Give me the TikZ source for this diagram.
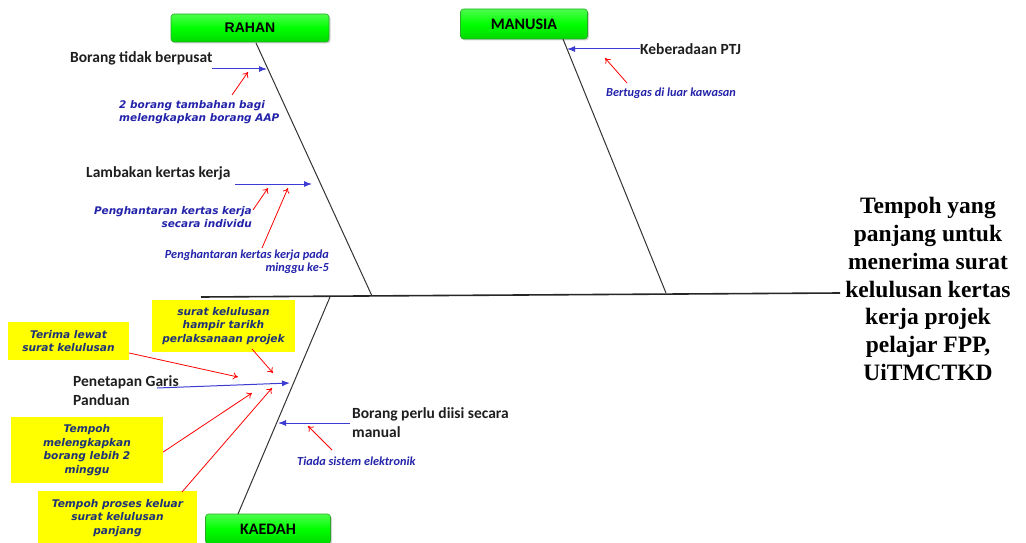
\documentclass[tikz,border=0pt]{standalone}
\usepackage{fontspec}
\setmainfont{Liberation Serif}
\newfontfamily\carl{Carlito}
\newfontfamily\dvs{DejaVu Sans}
\newfontfamily\lsans{Liberation Sans}
\usetikzlibrary{arrows.meta,shadows}
\definecolor{boxgreen}{RGB}{0,255,0}
\definecolor{boxedge}{RGB}{40,170,40}
\definecolor{arrowblue}{RGB}{60,60,210}
\definecolor{labelblue}{RGB}{35,35,170}
\definecolor{navy}{RGB}{30,50,120}
\definecolor{causegray}{RGB}{30,30,30}
\definecolor{yel}{RGB}{255,255,0}
\tikzset{
  catbox/.style={draw=boxedge, top color=boxgreen!70!white, bottom color=boxgreen!85!black, middle color=boxgreen, rounded corners=3pt, line width=0.6pt,
    drop shadow={shadow xshift=1.5pt, shadow yshift=-1.5pt, fill=black!35},
    inner sep=0pt, font=\carl\bfseries\fontsize{16}{18}\selectfont, text=black},
  bone/.style={draw=black!80, line width=1pt},
  causetxt/.style={anchor=west, inner sep=0pt, font=\carl\bfseries\fontsize{15.5}{19}\selectfont, text=causegray, align=left},
  bluearr/.style={draw=arrowblue, line width=1pt, -{Latex[length=8pt,width=6pt]}},
  redarr/.style={draw=red, line width=0.8pt, -{To[length=5pt,width=7pt]}},
  bluelab/.style={inner sep=0pt, font=\dvs\bfseries\itshape\fontsize{10.5}{13.5}\selectfont, text=labelblue},
  smalllab/.style={inner sep=0pt, font=\carl\bfseries\itshape\fontsize{12.3}{12.5}\selectfont, text=labelblue},
  yelbox/.style={fill=yel, inner sep=0pt, align=center, font=\dvs\bfseries\itshape\fontsize{10.6}{13.6}\selectfont, text=navy},
}
\begin{document}
\begin{tikzpicture}[x=1pt,y=-1pt]
\useasboundingbox (0,0) rectangle (1026,543);
% spine
\coordinate (sL) at (201,297);
\coordinate (sR) at (840,293);
\draw[line width=1.6pt, black!85] (sL) -- (sR);
% head
\node[font=\bfseries\fontsize{23.5}{27.7}\selectfont, align=center, inner sep=0pt] (head) at (928,289)
  {Tempoh yang\\panjang untuk\\menerima surat\\kelulusan kertas\\kerja projek\\pelajar FPP,\\UiTMCTKD};
% category boxes
\node[catbox, minimum width=158pt, minimum height=28pt] (rahan) at (250,28) {\lsans\bfseries\fontsize{14}{16}\selectfont RAHAN};
\node[catbox, minimum width=127pt, minimum height=30pt] (manusia) at (524,24) {MANUSIA};
\node[catbox, minimum width=125pt, minimum height=30pt] (kaedah) at (268,529) {KAEDAH};
% bones
\coordinate (rTop) at (256,43);
\coordinate (rBot) at (372,296);
\coordinate (mTop) at (563,39);
\coordinate (mBot) at (666,293);
\coordinate (kTop) at (330,297);
\coordinate (kBot) at (238,514);
\draw[bone] (rTop) -- (rBot);
\draw[bone] (mTop) -- (mBot);
\draw[bone] (kTop) -- (kBot);
% RAHAN causes
\node[causetxt] (c1) at (70,58) {Borang tidak berpusat};
\coordinate (b1s) at (212,69); \coordinate (b1e) at (267,69);
\draw[bluearr] (b1s) -- (b1e);
\coordinate (r1s) at (232,95); \coordinate (r1e) at (248,72);
\draw[redarr] (r1s) -- (r1e);
\node[bluelab, anchor=north west, align=left] (l1) at (119,100) {2 borang tambahan bagi\\melengkapkan borang AAP};

\node[causetxt] (c2) at (86,173) {Lambakan kertas kerja};
\coordinate (b2s) at (235,184); \coordinate (b2e) at (312,184);
\draw[bluearr] (b2s) -- (b2e);
\coordinate (r2s) at (253,210); \coordinate (r2e) at (268,188);
\draw[redarr] (r2s) -- (r2e);
\coordinate (r3s) at (262,248); \coordinate (r3e) at (288,188);
\draw[redarr] (r3s) -- (r3e);
\node[bluelab, anchor=north east, align=right] (l2) at (252,206) {Penghantaran kertas kerja\\secara individu};
\node[smalllab, anchor=north east, align=right] (l3) at (329,250) {Penghantaran kertas kerja pada\\minggu ke-5};

% MANUSIA cause
\node[causetxt] (c3) at (640,49) {Keberadaan PTJ};
\coordinate (b3e) at (567,49);
\draw[bluearr] (c3.west) -- (b3e);
\coordinate (r4s) at (627,83); \coordinate (r4e) at (605,58);
\draw[redarr] (r4s) -- (r4e);
\node[smalllab, anchor=west] (l4) at (606,93) {Bertugas di luar kawasan};

% KAEDAH causes
\node[causetxt] (c4) at (73,390.5) {Penetapan Garis\\Panduan};
\coordinate (b4s) at (157,388); \coordinate (b4e) at (290,383);
\draw[bluearr] (b4s) -- (b4e);

\node[causetxt] (c5) at (352,423) {Borang perlu diisi secara\\manual};
\coordinate (b5s) at (350,423); \coordinate (b5e) at (278,423);
\draw[bluearr] (b5s) -- (b5e);
\coordinate (r9s) at (332,450); \coordinate (r9e) at (308,426);
\draw[redarr] (r9s) -- (r9e);
\node[smalllab, anchor=west] (l5) at (297,461) {Tiada sistem elektronik};

% yellow boxes
\node[yelbox, minimum width=121pt, minimum height=38pt] (y1) at (68.5,341) {Terima lewat\\surat kelulusan};
\node[yelbox, minimum width=143pt, minimum height=52pt] (y2) at (223.5,326) {surat kelulusan\\hampir tarikh\\perlaksanaan projek};
\node[yelbox, minimum width=152pt, minimum height=66pt] (y3) at (87,450) {Tempoh\\melengkapkan\\borang lebih 2\\minggu};
\node[yelbox, minimum width=159pt, minimum height=54pt] (y4) at (117.5,518) {Tempoh proses keluar\\surat kelulusan\\panjang};

\coordinate (r5e) at (238,377);
\draw[redarr] (y1.east |- 0,353) -- (r5e);
\coordinate (r6s) at (252,349); \coordinate (r6e) at (273,373);
\draw[redarr] (r6s) -- (r6e);
\coordinate (r7e) at (252,393);
\draw[redarr] (y3.east |- 0,452) -- (r7e);
\coordinate (r8s) at (182,492); \coordinate (r8e) at (272,388);
\draw[redarr] (r8s) -- (r8e);
\end{tikzpicture}
\end{document}
